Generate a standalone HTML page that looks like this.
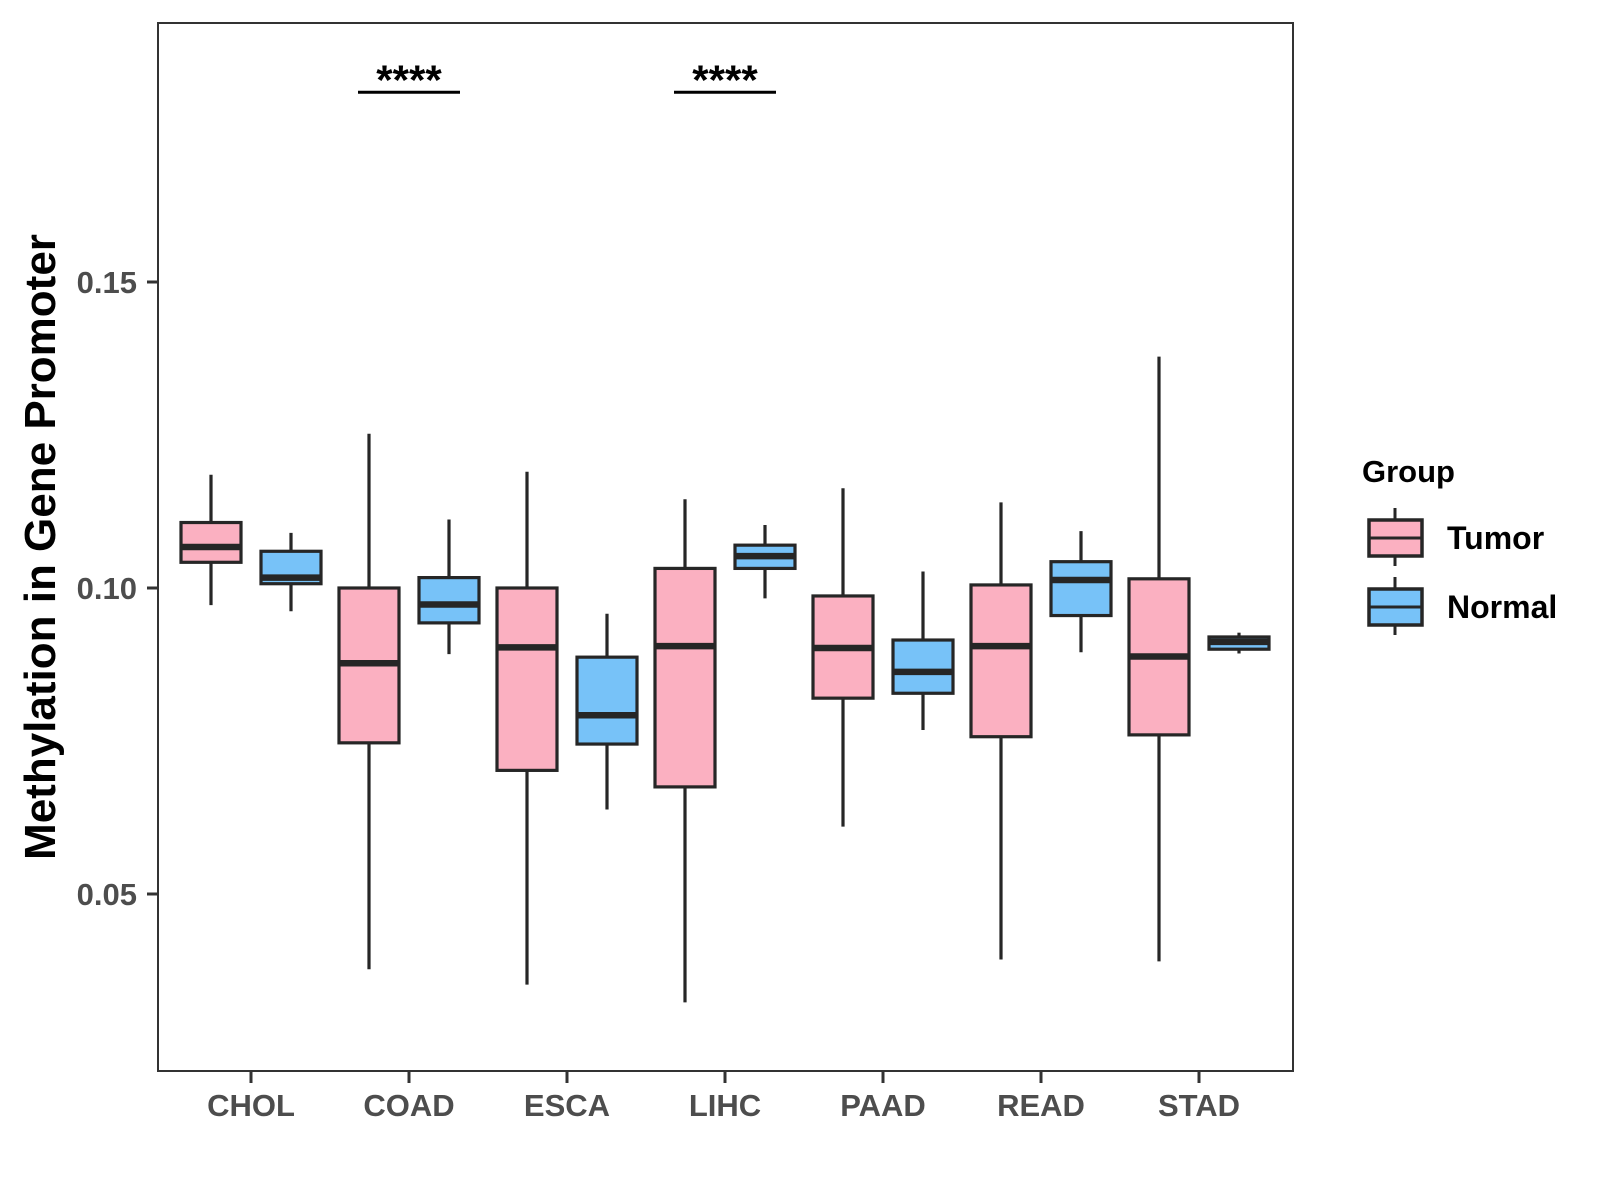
<!DOCTYPE html>
<html><head><meta charset="utf-8"><style>
html,body{margin:0;padding:0;background:#fff;}
svg{display:block;font-family:"Liberation Sans",Arial,sans-serif;}
</style></head><body>
<svg id="chart" width="1600" height="1200" viewBox="0 0 1600 1200">
<rect x="158" y="23" width="1135" height="1048" fill="#fff" stroke="#333" stroke-width="2"/>
<g id="marks"></g>
<g id="axes"></g>
<text x="0" y="0" transform="translate(55,547) rotate(-90)" text-anchor="middle" font-size="44" font-weight="bold" fill="#000">Methylation in Gene Promoter</text>
<g>
<text x="1362" y="482" font-size="31" font-weight="bold" fill="#000">Group</text>
<g>
<line x1="1395" y1="508" x2="1395" y2="566" stroke="#262626" stroke-width="3"/>
<rect x="1369" y="520" width="53" height="36" fill="#FBB0C1" stroke="#262626" stroke-width="3.5"/>
<line x1="1369" y1="538" x2="1422" y2="538" stroke="#262626" stroke-width="3"/>
<text x="1447" y="549" font-size="32" font-weight="bold" fill="#000">Tumor</text>
</g>
<g>
<line x1="1395" y1="577" x2="1395" y2="635" stroke="#262626" stroke-width="3"/>
<rect x="1369" y="589" width="53" height="36" fill="#77C2F8" stroke="#262626" stroke-width="3.5"/>
<line x1="1369" y1="607" x2="1422" y2="607" stroke="#262626" stroke-width="3"/>
<text x="1447" y="618" font-size="32" font-weight="bold" fill="#000">Normal</text>
</g>
</g>
</svg>
<script>
const categories = ["CHOL","COAD","ESCA","LIHC","PAAD","READ","STAD"];
const groups = ["Tumor","Normal"];
const tumorLow  = [0.0972,0.0377,0.0352,0.0323,0.0610,0.0393,0.0390];
const tumorQ1   = [0.1042,0.0747,0.0702,0.0675,0.0820,0.0757,0.0760];
const tumorMed  = [0.1067,0.0877,0.0903,0.0905,0.0902,0.0905,0.0888];
const tumorQ3   = [0.1107,0.1000,0.1000,0.1032,0.0987,0.1005,0.1015];
const tumorHigh = [0.1185,0.1252,0.1190,0.1145,0.1163,0.1140,0.1378];
const normalLow  = [0.0962,0.0892,0.0638,0.0983,0.0768,0.0895,0.0893];
const normalQ1   = [0.1007,0.0943,0.0745,0.1032,0.0828,0.0955,0.0900];
const normalMed  = [0.1017,0.0973,0.0792,0.1052,0.0863,0.1013,0.0912];
const normalQ3   = [0.1060,0.1017,0.0887,0.1070,0.0915,0.1043,0.0920];
const normalHigh = [0.1090,0.1112,0.0958,0.1103,0.1027,0.1093,0.0927];
const yTicks = [0.05,0.10,0.15];
const yTickLabels = ["0.05","0.10","0.15"];
const sigCategories = ["COAD","LIHC"];
const sigLabels = ["****","****"];
const sigValue = 0.181;

const NS="http://www.w3.org/2000/svg";
function yScale(v){return 588-(v-0.10)*6120;}
function xScale(i){return 251+i*158;}
function mk(tag,attrs,parent){const e=document.createElementNS(NS,tag);for(const k in attrs)e.setAttribute(k,attrs[k]);parent.appendChild(e);return e;}
const marks=document.getElementById('marks');
const axes=document.getElementById('axes');
const series=[
 {name:"tumor",off:-40,fill:"#FBB0C1",lo:tumorLow,q1:tumorQ1,md:tumorMed,q3:tumorQ3,hi:tumorHigh},
 {name:"normal",off:40,fill:"#77C2F8",lo:normalLow,q1:normalQ1,md:normalMed,q3:normalQ3,hi:normalHigh}
];
series.forEach(s=>{
 categories.forEach((c,i)=>{
  const cx=xScale(i)+s.off, w=60;
  const g=mk('g',{},marks);
  
  
  mk('line',{x1:cx,x2:cx,y1:yScale(s.hi[i]),y2:yScale(s.lo[i]),stroke:'#262626','stroke-width':3.2},g);
  const yt=yScale(s.q3[i]),yb=yScale(s.q1[i]);
  mk('rect',{x:cx-w/2,y:yt,width:w,height:Math.max(yb-yt,0.1),fill:s.fill,stroke:'#262626','stroke-width':3.2},g);
  mk('line',{x1:cx-w/2,x2:cx+w/2,y1:yScale(s.md[i]),y2:yScale(s.md[i]),stroke:'#262626','stroke-width':6.5},g);
 });
});
yTicks.forEach((v,i)=>{
 const y=yScale(v);
 const t=mk('line',{x1:147,x2:158,y1:y,y2:y,stroke:'#333','stroke-width':3},axes);
 
 
 const l=mk('text',{x:137,y:y+11,'text-anchor':'end','font-size':31,'font-weight':'bold',fill:'#4d4d4d'},axes);
 l.textContent=yTickLabels[i];
 
 
});
categories.forEach((c,i)=>{
 const x=xScale(i);
 const t=mk('line',{x1:x,x2:x,y1:1071,y2:1083,stroke:'#333','stroke-width':3},axes);
 
 
 const l=mk('text',{x:x,y:1116,'text-anchor':'middle','font-size':31,'font-weight':'bold',fill:'#4d4d4d'},axes);
 l.textContent=c;
 
 
});
sigCategories.forEach((c,k)=>{
 const i=categories.indexOf(c), x=xScale(i), y=yScale(sigValue);
 const g=mk('g',{},marks);
 
 
 mk('line',{x1:x-51,x2:x+51,y1:y,y2:y,stroke:'#000','stroke-width':3},g);
 const t=mk('text',{x:x,y:y+2,'text-anchor':'middle','font-size':42,'font-weight':'bold',fill:'#000'},g);
 t.textContent=sigLabels[k];
});
</script>
</body></html>
